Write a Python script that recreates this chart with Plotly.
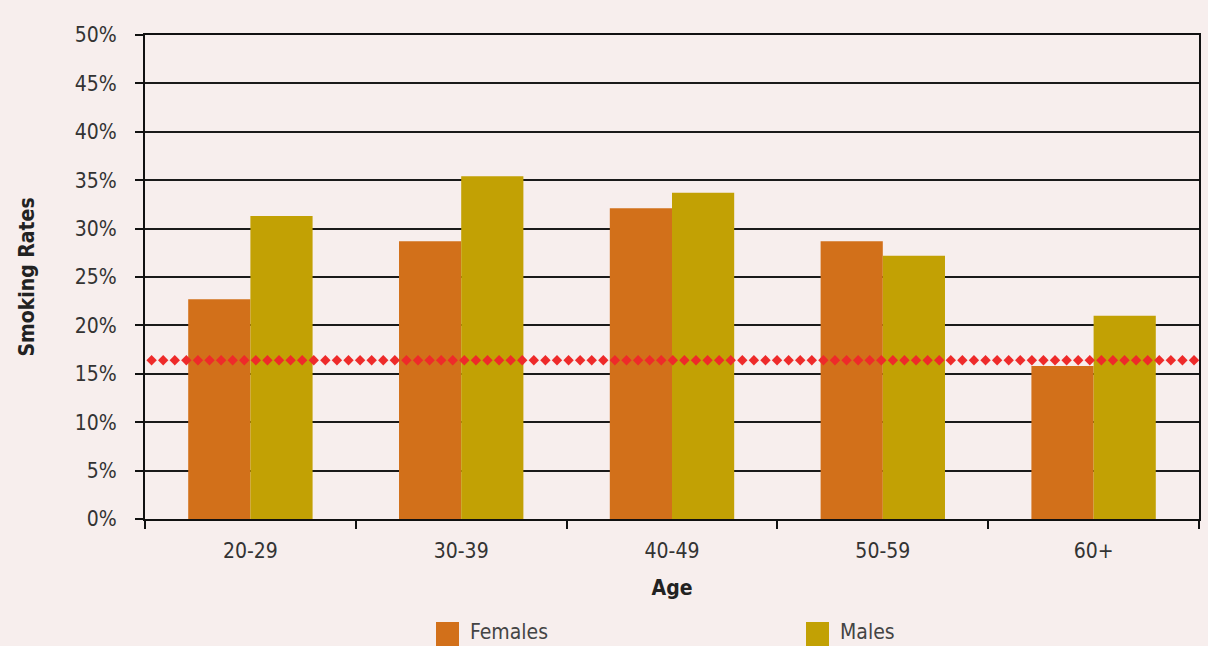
import plotly.graph_objects as go

age_groups = ["20-29", "30-39", "40-49", "50-59", "60+"]
females = [22.7, 28.7, 32.1, 28.7, 15.8]
males = [31.3, 35.4, 33.7, 27.2, 21.0]
reference_rate = 16.4

FEM_COLOR = "#d2701a"
MALE_COLOR = "#c2a104"
BG = "#f7eeed"
FONT = "DejaVu Sans Condensed, Liberation Sans Narrow, Arial Narrow, sans-serif"

W, H = 1208, 646
L, R, T, B = 145, 9, 35, 127
plot_w = W - L - R
plot_h = H - T - B

def px_x(p):
    return (p - L) / plot_w

def px_y(p):
    return (H - B - p) / plot_h

fig = go.Figure()
fig.add_trace(go.Bar(x=age_groups, y=females, name="Females",
                     marker=dict(color=FEM_COLOR, line=dict(width=0)), showlegend=False))
fig.add_trace(go.Bar(x=age_groups, y=males, name="Males",
                     marker=dict(color=MALE_COLOR, line=dict(width=0)), showlegend=False))

# reference line with diamond markers across the chart (extends past the right edge)
n_pts = 93
fig.add_trace(go.Scatter(
    x=[i - 0.43 for i in range(n_pts)], y=[reference_rate] * n_pts, xaxis="x2", yaxis="y",
    mode="markers", marker=dict(symbol="diamond", size=8, color="#ee2a2a"),
    cliponaxis=False, showlegend=False, hoverinfo="skip"))

fig.update_layout(
    width=W, height=H,
    margin=dict(l=L, r=R, t=T, b=B, autoexpand=False),
    paper_bgcolor=BG, plot_bgcolor=BG,
    font=dict(family=FONT, size=21, color="#333333"),
    barmode="group", bargap=0.41, bargroupgap=0,
    xaxis=dict(
        type="category", showline=True, linecolor="#111111", linewidth=2,
        mirror=True, ticks="outside", ticklen=8, tickwidth=2, tickcolor="#111111",
        tickson="boundaries", showgrid=False, ticklabelstandoff=12,
        title=dict(text="<b>Age</b>", standoff=18, font=dict(size=21, color="#222222")),
        automargin=False,
    ),
    xaxis2=dict(domain=[0, 1], anchor="y", overlaying="x", range=[0, 91],
                visible=False, showgrid=False),
    yaxis=dict(
        range=[0, 50], tickmode="linear", tick0=0, dtick=5, ticksuffix="%",
        showline=True, linecolor="#111111", linewidth=2, mirror=True,
        ticks="outside", ticklen=8, tickwidth=2, tickcolor="#111111",
        showgrid=True, gridcolor="#1a1a1a", gridwidth=2,
        zeroline=False, ticklabelstandoff=14,
        title=dict(text="<b>Smoking Rates</b>", standoff=34, font=dict(size=21, color="#222222")),
        automargin=False,
    ),
)

# manual legend at the bottom
legend_items = [("Females", FEM_COLOR, 436), ("Males", MALE_COLOR, 806)]
for label, color, x0 in legend_items:
    fig.add_shape(type="rect", xref="paper", yref="paper",
                  x0=px_x(x0), x1=px_x(x0 + 23), y0=px_y(646), y1=px_y(622),
                  fillcolor=color, line=dict(width=0))
    fig.add_annotation(text=label, xref="paper", yref="paper",
                       x=px_x(x0 + 32), y=px_y(632), xanchor="left", yanchor="middle",
                       showarrow=False, font=dict(size=21, color="#444444"))

fig.write_html("out.html", config={"displayModeBar": False},
               post_script="document.body.style.margin='0';")
